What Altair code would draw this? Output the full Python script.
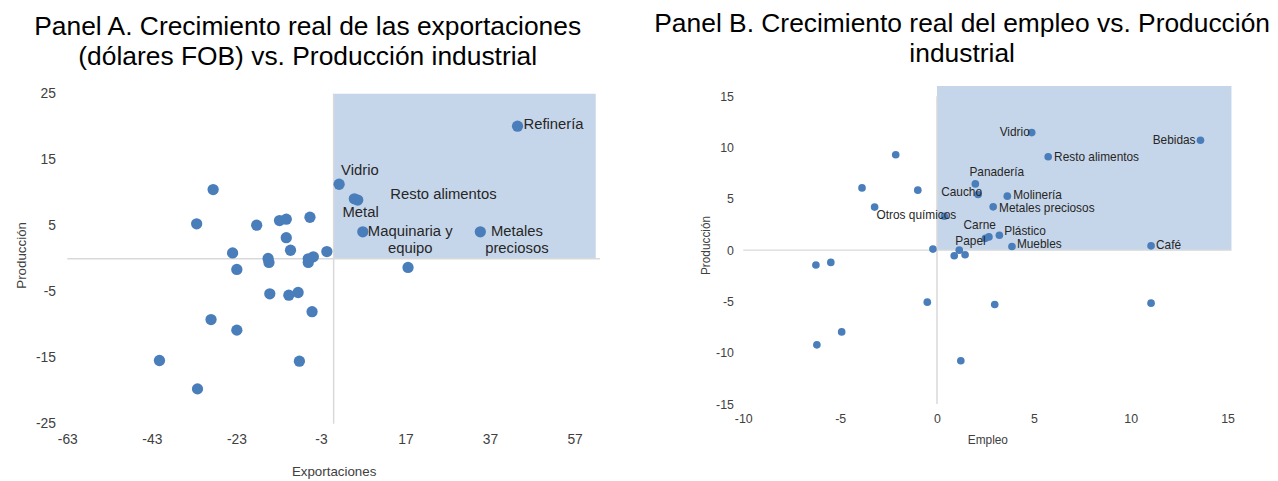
import altair as alt
import pandas as pd

FONT = "Liberation Sans"
DOT = "#4a7ebb"
SHADE = "#c6d6ea"
ZERO = "#d9d9d9"
TXT = "#404040"

# ---------------- Panel A data ----------------
a_x = [-28.5, -32.4, 1.3, 4.9, 5.7, -18.2, -12.8, -11.2, -5.6, -11.2, -10.2, -23.9,
       -1.6, -15.5, -15.3, -6.0, -4.8, -6.0, -22.9, -15.1, -10.6, -8.4, -5.1, -29.0,
       -22.9, -41.2, -8.1, -32.2, 43.5, 6.9, 34.7, 17.6]
a_y = [10.5, 5.3, 11.3, 9.1, 8.9, 5.1, 5.8, 6.0, 6.3, 3.2, 1.3, 0.9,
       1.1, 0.05, -0.55, 0.0, 0.3, -0.55, -1.6, -5.3, -5.5, -5.1, -8.0, -9.2,
       -10.8, -15.4, -15.5, -19.7, 20.1, 4.1, 4.1, -1.3]
a_lab = ["", "", "Vidrio", "Metal", "Resto alimentos", "", "", "", "", "", "", "",
         "", "", "", "", "", "", "", "", "", "", "", "",
         "", "", "", "", "Refinería", "Maquinaria y\nequipo", "Metales\npreciosos", ""]
a_xticks = [-63, -43, -23, -3, 17, 37, 57]
a_yticks = [-25, -15, -5, 5, 15, 25]
a_xdom = [-63, 63]
a_ydom = [-25, 26.2]
a_shade_x = [0, 62]
a_shade_y = [0, 25]

# ---------------- Panel B data ----------------
b_x = [-2.13, -3.87, -0.99, -3.22, 0.38, -0.21, -6.25, -5.48, -0.5, -4.92, -6.2, 1.23,
       0.89, 1.15, 1.45, 4.89, 13.6, 5.74, 1.98, 2.12, 3.63, 2.9, 2.68, 2.5,
       3.22, 3.87, 11.05, 2.98, 11.05]
b_y = [9.29, 6.06, 5.84, 4.19, 3.3, 0.1, -1.45, -1.2, -5.07, -7.97, -9.23, -10.78,
       -0.55, 0.0, -0.45, 11.45, 10.7, 9.1, 6.45, 5.42, 5.26, 4.22, 1.29, 1.15,
       1.45, 0.35, 0.42, -5.3, -5.17]
b_lab = ["", "", "", "", "Otros químicos", "", "", "", "", "", "", "",
         "", "Papel", "", "Vidrio", "Bebidas", "Resto alimentos", "Panadería", "Caucho",
         "Molinería", "Metales preciosos", "Carne", "",
         "Plástico", "Muebles", "Café", "", ""]
b_xticks = [-10, -5, 0, 5, 10, 15]
b_yticks = [-15, -10, -5, 0, 5, 10, 15]
b_xdom = [-10, 15.2]
b_ydom = [-15, 16]
b_shade_x = [0, 15.2]
b_shade_y = [0, 16]

# label placement (align, dx, dy) in pixels - styling only
a_place = {
    "Vidrio": ("left", 2, -14),
    "Metal": ("left", -12, 13),
    "Resto alimentos": ("left", 33, -6),
    "Refinería": ("left", 6, -2),
    "Maquinaria y\nequipo": ("center", 48, -1),
    "Metales\npreciosos": ("center", 37, -1),
}
b_place = {
    "Otros químicos": ("right", 12, -1),
    "Papel": ("left", -4, -9),
    "Vidrio": ("right", -2, -1),
    "Bebidas": ("right", -5, 0),
    "Resto alimentos": ("left", 6, 0),
    "Panadería": ("left", -6, -12),
    "Caucho": ("right", 4, -2),
    "Molinería": ("left", 6, -1),
    "Metales preciosos": ("left", 6, 1),
    "Carne": ("right", 7, -12),
    "Plástico": ("left", 5, -4),
    "Muebles": ("left", 5, -3),
    "Café": ("left", 5, -1),
}


def panel(xs, ys, labs, xdom, ydom, xticks, yticks, sx, sy, place,
          xtitle, ytitle, title_lines, width, height, dot_size, lab_size,
          tick_size, atitle_size, xlp, xtp, ylp, ytp, toff, tdx):
    df = pd.DataFrame({"x": xs, "y": ys, "label": labs})
    xsc = alt.Scale(domain=xdom, nice=False, zero=False)
    ysc = alt.Scale(domain=ydom, nice=False, zero=False)
    common = dict(grid=False, domain=False, ticks=False, tickSize=0, labelFlush=False,
                  labelExpr="toString(datum.value)", labelFont=FONT,
                  labelFontSize=tick_size, labelColor=TXT, titleFont=FONT,
                  titleFontSize=atitle_size, titleFontWeight="normal", titleColor=TXT)
    xax = alt.Axis(values=xticks, title=xtitle, labelPadding=xlp, titlePadding=xtp, **common)
    yax = alt.Axis(values=yticks, title=ytitle, labelPadding=ylp, titlePadding=ytp, **common)
    shade_df = pd.DataFrame({"x1": [sx[0]], "x2": [sx[1]], "y1": [sy[0]], "y2": [sy[1]]})
    shade = alt.Chart(shade_df).mark_rect(color=SHADE).encode(
        x=alt.X("x1:Q", scale=xsc, axis=xax), x2="x2:Q",
        y=alt.Y("y1:Q", scale=ysc, axis=yax), y2="y2:Q")
    hrule = alt.Chart(shade_df).mark_rule(color=ZERO, strokeWidth=1.5).encode(
        x=alt.datum(xdom[0], scale=xsc), x2=alt.datum(xdom[1]),
        y=alt.datum(0, scale=ysc))
    vrule = alt.Chart(shade_df).mark_rule(color=ZERO, strokeWidth=1.5).encode(
        x=alt.datum(0, scale=xsc),
        y=alt.datum(yticks[0], scale=ysc), y2=alt.datum(yticks[-1]))
    pts = alt.Chart(df).mark_circle(size=dot_size, color=DOT, opacity=1).encode(
        x=alt.X("x:Q", scale=xsc), y=alt.Y("y:Q", scale=ysc))
    layers = [shade, hrule, vrule, pts]
    for name, (al, dx, dy) in place.items():
        layers.append(
            alt.Chart(df).transform_filter(alt.datum.label == name)
            .mark_text(align=al, baseline="middle", dx=dx, dy=dy, font=FONT,
                       fontSize=lab_size, color="#262626", lineBreak="\n",
                       lineHeight=lab_size + 2)
            .encode(x=alt.X("x:Q", scale=xsc), y=alt.Y("y:Q", scale=ysc),
                    text="label:N"))
    return alt.layer(*layers).properties(
        width=width, height=height,
        title=alt.TitleParams(title_lines, font=FONT, fontSize=26.7, lineHeight=31,
                              fontWeight="normal", color="#000000", frame="bounds",
                              anchor="middle", offset=toff, dx=tdx))


pA = panel(a_x, a_y, a_lab, a_xdom, a_ydom, a_xticks, a_yticks, a_shade_x, a_shade_y,
           a_place, "Exportaciones", "Producción",
           ["Panel A. Crecimiento real de las exportaciones",
            "(dólares FOB) vs. Producción industrial"],
           539, 342, 130, 15, 14, 13.5, 9, 18, 12, 7, 15, 0)
pB = panel(b_x, b_y, b_lab, b_xdom, b_ydom, b_xticks, b_yticks, b_shade_x, b_shade_y,
           b_place, "Empleo", "Producción",
           ["Panel B. Crecimiento real del empleo vs. Producción", "industrial"],
           494, 322, 60, 12, 12.5, 12, 9, 9, 10, 3, 18, -5)

chart = alt.hconcat(pA, pB, spacing=145, bounds="flush").properties(
    padding={"left": 6, "top": 0, "right": 0, "bottom": 0}
).configure_view(stroke=None)

chart.save("out.html", embed_options={"renderer": "svg", "actions": False})
